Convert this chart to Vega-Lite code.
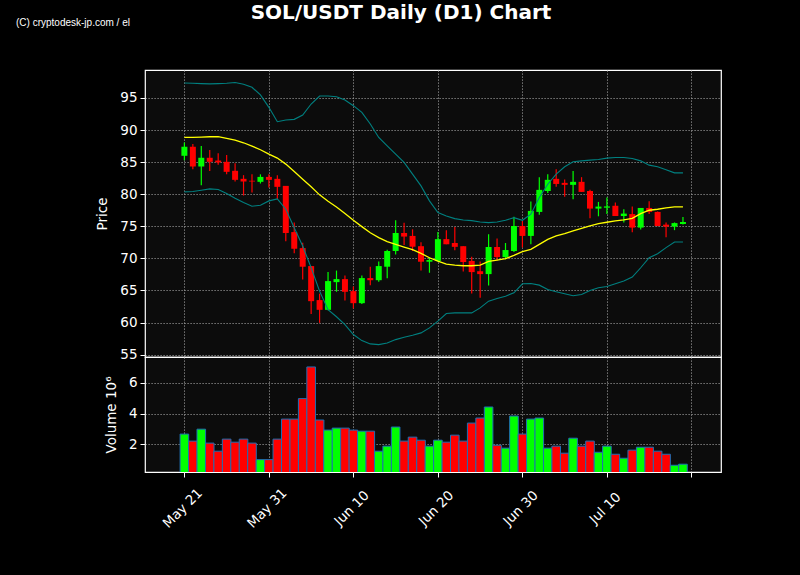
{
  "$schema": "https://vega.github.io/schema/vega-lite/v6.json",
  "background": "#000000",
  "padding": {"left": 15, "top": 3, "right": 85, "bottom": 60},
  "bounds": "flush",
  "title": {
    "text": "SOL/USDT Daily (D1) Chart",
    "color": "white",
    "font": "DejaVu Sans",
    "fontSize": 20,
    "fontWeight": "bold",
    "anchor": "middle",
    "frame": "group",
    "dx": -32,
    "offset": -6
  },
  "data": {
    "values": [
      {"date": "2024-05-21", "open": 85.99, "high": 88.07, "low": 85.31, "close": 87.4, "volume": 2.66, "ma": 88.85, "upper": 97.34, "lower": 80.36},
      {"date": "2024-05-22", "open": 87.4, "high": 87.81, "low": 83.9, "close": 84.32, "volume": 2.2, "ma": 88.85, "upper": 97.29, "lower": 80.42},
      {"date": "2024-05-23", "open": 84.32, "high": 87.5, "low": 81.4, "close": 85.68, "volume": 2.98, "ma": 88.9, "upper": 97.24, "lower": 80.63},
      {"date": "2024-05-24", "open": 85.68, "high": 86.88, "low": 83.6, "close": 85.05, "volume": 2.07, "ma": 88.96, "upper": 97.19, "lower": 80.83},
      {"date": "2024-05-25", "open": 85.25, "high": 86.4, "low": 84.6, "close": 84.95, "volume": 1.54, "ma": 88.96, "upper": 97.24, "lower": 80.73},
      {"date": "2024-05-26", "open": 85.05, "high": 86.1, "low": 83.1, "close": 83.49, "volume": 2.33, "ma": 88.7, "upper": 97.29, "lower": 80.1},
      {"date": "2024-05-27", "open": 83.65, "high": 84.84, "low": 81.98, "close": 82.24, "volume": 2.13, "ma": 88.44, "upper": 97.4, "lower": 79.38},
      {"date": "2024-05-28", "open": 82.4, "high": 82.97, "low": 79.8, "close": 81.98, "volume": 2.33, "ma": 88.02, "upper": 97.14, "lower": 78.7},
      {"date": "2024-05-29", "open": 82.1, "high": 83.1, "low": 80.26, "close": 81.98, "volume": 2.07, "ma": 87.5, "upper": 96.67, "lower": 78.13},
      {"date": "2024-05-30", "open": 81.93, "high": 83.1, "low": 81.67, "close": 82.7, "volume": 0.99, "ma": 86.93, "upper": 95.47, "lower": 78.28},
      {"date": "2024-05-31", "open": 82.7, "high": 83.1, "low": 81.04, "close": 82.24, "volume": 0.99, "ma": 86.25, "upper": 93.54, "lower": 78.96},
      {"date": "2024-06-01", "open": 82.4, "high": 82.97, "low": 79.2, "close": 81.15, "volume": 2.33, "ma": 85.63, "upper": 91.3, "lower": 79.27},
      {"date": "2024-06-02", "open": 81.3, "high": 81.3, "low": 72.66, "close": 73.96, "volume": 3.64, "ma": 84.69, "upper": 91.56, "lower": 77.66},
      {"date": "2024-06-03", "open": 74.1, "high": 75.6, "low": 70.8, "close": 71.5, "volume": 3.64, "ma": 83.54, "upper": 91.67, "lower": 74.79},
      {"date": "2024-06-04", "open": 71.6, "high": 72.45, "low": 66.7, "close": 68.7, "volume": 4.98, "ma": 82.34, "upper": 92.34, "lower": 71.93},
      {"date": "2024-06-05", "open": 68.8, "high": 68.8, "low": 61.35, "close": 63.33, "volume": 7.05, "ma": 81.15, "upper": 94.06, "lower": 68.54},
      {"date": "2024-06-06", "open": 63.5, "high": 64.5, "low": 59.95, "close": 61.98, "volume": 3.58, "ma": 79.9, "upper": 95.31, "lower": 64.9},
      {"date": "2024-06-07", "open": 61.98, "high": 67.86, "low": 61.9, "close": 66.46, "volume": 2.92, "ma": 78.9, "upper": 95.31, "lower": 62.0},
      {"date": "2024-06-08", "open": 66.3, "high": 68.1, "low": 64.8, "close": 66.77, "volume": 3.05, "ma": 78.0, "upper": 95.2, "lower": 60.9},
      {"date": "2024-06-09", "open": 66.77, "high": 67.34, "low": 63.44, "close": 64.79, "volume": 3.05, "ma": 76.98, "upper": 94.69, "lower": 59.69},
      {"date": "2024-06-10", "open": 64.9, "high": 65.6, "low": 62.2, "close": 63.02, "volume": 2.92, "ma": 75.94, "upper": 93.8, "lower": 58.13},
      {"date": "2024-06-11", "open": 63.02, "high": 67.34, "low": 62.9, "close": 66.93, "volume": 2.85, "ma": 74.95, "upper": 92.76, "lower": 57.19},
      {"date": "2024-06-12", "open": 66.93, "high": 68.7, "low": 65.8, "close": 66.6, "volume": 2.85, "ma": 74.0, "upper": 90.94, "lower": 56.67},
      {"date": "2024-06-13", "open": 66.6, "high": 69.53, "low": 66.35, "close": 68.8, "volume": 1.54, "ma": 73.23, "upper": 88.85, "lower": 56.56},
      {"date": "2024-06-14", "open": 68.7, "high": 71.35, "low": 66.9, "close": 71.15, "volume": 1.87, "ma": 72.6, "upper": 87.55, "lower": 56.82},
      {"date": "2024-06-15", "open": 71.15, "high": 75.94, "low": 70.6, "close": 73.96, "volume": 3.12, "ma": 72.19, "upper": 86.25, "lower": 57.34},
      {"date": "2024-06-16", "open": 73.96, "high": 75.57, "low": 72.1, "close": 73.4, "volume": 2.2, "ma": 71.77, "upper": 84.95, "lower": 57.71},
      {"date": "2024-06-17", "open": 73.5, "high": 74.53, "low": 71.15, "close": 71.82, "volume": 2.46, "ma": 71.35, "upper": 83.13, "lower": 58.02},
      {"date": "2024-06-18", "open": 71.9, "high": 72.5, "low": 68.1, "close": 69.48, "volume": 2.26, "ma": 70.78, "upper": 81.3, "lower": 58.39},
      {"date": "2024-06-19", "open": 69.48, "high": 70.1, "low": 67.76, "close": 69.74, "volume": 1.87, "ma": 70.1, "upper": 78.96, "lower": 59.17},
      {"date": "2024-06-20", "open": 69.6, "high": 74.1, "low": 69.5, "close": 73.0, "volume": 2.26, "ma": 69.58, "upper": 77.14, "lower": 60.21},
      {"date": "2024-06-21", "open": 73.0, "high": 74.4, "low": 72.2, "close": 72.2, "volume": 2.13, "ma": 69.1, "upper": 76.61, "lower": 61.41},
      {"date": "2024-06-22", "open": 72.4, "high": 74.9, "low": 71.25, "close": 71.8, "volume": 2.59, "ma": 68.96, "upper": 76.2, "lower": 61.51},
      {"date": "2024-06-23", "open": 71.9, "high": 71.9, "low": 67.97, "close": 69.43, "volume": 2.2, "ma": 68.85, "upper": 75.99, "lower": 61.51},
      {"date": "2024-06-24", "open": 69.6, "high": 70.26, "low": 64.53, "close": 67.86, "volume": 3.38, "ma": 68.85, "upper": 75.89, "lower": 61.51},
      {"date": "2024-06-25", "open": 68.0, "high": 69.5, "low": 63.85, "close": 67.55, "volume": 3.71, "ma": 68.96, "upper": 75.68, "lower": 62.29},
      {"date": "2024-06-26", "open": 67.55, "high": 73.75, "low": 65.78, "close": 71.77, "volume": 4.43, "ma": 69.53, "upper": 75.57, "lower": 63.33},
      {"date": "2024-06-27", "open": 71.77, "high": 73.1, "low": 69.7, "close": 70.2, "volume": 1.93, "ma": 69.74, "upper": 75.68, "lower": 63.75},
      {"date": "2024-06-28", "open": 70.2, "high": 72.4, "low": 69.84, "close": 71.3, "volume": 1.74, "ma": 69.95, "upper": 75.94, "lower": 64.11},
      {"date": "2024-06-29", "open": 71.15, "high": 76.5, "low": 71.0, "close": 75.05, "volume": 3.84, "ma": 70.47, "upper": 76.35, "lower": 64.64},
      {"date": "2024-06-30", "open": 75.05, "high": 75.8, "low": 71.7, "close": 73.5, "volume": 2.66, "ma": 71.04, "upper": 75.94, "lower": 66.04},
      {"date": "2024-07-01", "open": 73.5, "high": 78.85, "low": 72.2, "close": 77.4, "volume": 3.64, "ma": 71.4, "upper": 76.88, "lower": 66.09},
      {"date": "2024-07-02", "open": 77.24, "high": 82.66, "low": 76.8, "close": 80.68, "volume": 3.71, "ma": 72.19, "upper": 79.48, "lower": 65.83},
      {"date": "2024-07-03", "open": 80.5, "high": 83.1, "low": 80.2, "close": 82.24, "volume": 1.74, "ma": 72.97, "upper": 81.56, "lower": 65.16},
      {"date": "2024-07-04", "open": 82.4, "high": 83.9, "low": 81.15, "close": 81.6, "volume": 1.87, "ma": 73.49, "upper": 83.13, "lower": 64.79},
      {"date": "2024-07-05", "open": 81.77, "high": 82.3, "low": 79.6, "close": 81.46, "volume": 1.41, "ma": 73.85, "upper": 84.27, "lower": 64.48},
      {"date": "2024-07-06", "open": 81.46, "high": 83.6, "low": 79.2, "close": 81.93, "volume": 2.39, "ma": 74.27, "upper": 85.05, "lower": 64.17},
      {"date": "2024-07-07", "open": 81.93, "high": 82.66, "low": 80.36, "close": 80.36, "volume": 1.87, "ma": 74.69, "upper": 85.2, "lower": 64.38},
      {"date": "2024-07-08", "open": 80.5, "high": 80.7, "low": 76.25, "close": 77.76, "volume": 2.2, "ma": 75.05, "upper": 85.31, "lower": 65.0},
      {"date": "2024-07-09", "open": 77.76, "high": 78.8, "low": 76.56, "close": 78.07, "volume": 1.47, "ma": 75.42, "upper": 85.42, "lower": 65.42},
      {"date": "2024-07-10", "open": 77.9, "high": 79.5, "low": 76.9, "close": 78.1, "volume": 1.87, "ma": 75.63, "upper": 85.63, "lower": 65.63},
      {"date": "2024-07-11", "open": 78.2, "high": 78.7, "low": 76.6, "close": 76.6, "volume": 1.34, "ma": 75.83, "upper": 85.73, "lower": 66.04},
      {"date": "2024-07-12", "open": 76.6, "high": 77.66, "low": 75.6, "close": 76.98, "volume": 1.08, "ma": 75.99, "upper": 85.73, "lower": 66.46},
      {"date": "2024-07-13", "open": 76.9, "high": 78.07, "low": 74.06, "close": 74.8, "volume": 1.61, "ma": 76.25, "upper": 85.57, "lower": 67.08},
      {"date": "2024-07-14", "open": 74.8, "high": 77.86, "low": 74.5, "close": 77.86, "volume": 1.8, "ma": 76.98, "upper": 85.2, "lower": 68.54},
      {"date": "2024-07-15", "open": 77.86, "high": 78.9, "low": 76.9, "close": 77.24, "volume": 1.8, "ma": 77.5, "upper": 84.53, "lower": 70.1},
      {"date": "2024-07-16", "open": 77.24, "high": 77.3, "low": 75.0, "close": 75.05, "volume": 1.54, "ma": 77.66, "upper": 84.27, "lower": 70.73},
      {"date": "2024-07-17", "open": 75.26, "high": 75.6, "low": 73.3, "close": 74.95, "volume": 1.34, "ma": 77.86, "upper": 83.8, "lower": 71.67},
      {"date": "2024-07-18", "open": 74.95, "high": 75.6, "low": 74.4, "close": 75.5, "volume": 0.62, "ma": 78.02, "upper": 83.33, "lower": 72.55},
      {"date": "2024-07-19", "open": 75.36, "high": 76.46, "low": 75.3, "close": 75.67, "volume": 0.69, "ma": 78.02, "upper": 83.33, "lower": 72.55}
    ]
  },
  "spacing": 0,
  "resolve": {"scale": {"y": "independent"}},
  "vconcat": [
    {
      "width": 576,
      "height": 287,
      "title": {
        "text": "(C) cryptodesk-jp.com / el",
        "anchor": "start",
        "frame": "group",
        "dx": -129,
        "offset": 42,
        "font": "Liberation Sans",
        "fontSize": 10,
        "fontWeight": "normal",
        "color": "white"
      },
      "encoding": {
        "x": {
          "field": "date",
          "type": "temporal",
          "scale": {
            "type": "utc",
            "domain": [
              {"year": 2024, "month": 5, "date": 16, "hours": 22, "minutes": 20, "utc": true},
              {"year": 2024, "month": 7, "date": 22, "hours": 21, "minutes": 50, "utc": true}
            ]
          },
          "axis": {
            "values": [
              {"year": 2024, "month": 5, "date": 21, "utc": true},
              {"year": 2024, "month": 5, "date": 31, "utc": true},
              {"year": 2024, "month": 6, "date": 10, "utc": true},
              {"year": 2024, "month": 6, "date": 20, "utc": true},
              {"year": 2024, "month": 6, "date": 30, "utc": true},
              {"year": 2024, "month": 7, "date": 10, "utc": true},
              {"year": 2024, "month": 7, "date": 20, "utc": true}
            ],
            "labels": false,
            "ticks": false,
            "title": null
          }
        },
        "color": {
          "condition": {"test": "datum.close >= datum.open", "value": "#00ff00"},
          "value": "#ff0000"
        }
      },
      "layer": [
        {
          "mark": {"type": "rule", "strokeWidth": 1.2},
          "encoding": {
            "y": {
              "field": "low",
              "type": "quantitative",
              "title": "Price",
              "scale": {"domain": [54.63, 99.36], "nice": false, "zero": false},
              "axis": {"values": [55, 60, 65, 70, 75, 80, 85, 90, 95]}
            },
            "y2": {"field": "high"}
          }
        },
        {
          "mark": {"type": "bar", "size": 6},
          "encoding": {
            "y": {"field": "open", "type": "quantitative", "title": "Price", "axis": {"values": [55, 60, 65, 70, 75, 80, 85, 90, 95]}},
            "y2": {"field": "close"}
          }
        },
        {
          "mark": {"type": "line", "color": "#008080", "strokeWidth": 1.1},
          "encoding": {
            "y": {"field": "upper", "type": "quantitative", "title": "Price", "axis": {"values": [55, 60, 65, 70, 75, 80, 85, 90, 95]}},
            "color": {"value": "#008080"}
          }
        },
        {
          "mark": {"type": "line", "color": "#008080", "strokeWidth": 1.1},
          "encoding": {
            "y": {"field": "lower", "type": "quantitative", "title": "Price", "axis": {"values": [55, 60, 65, 70, 75, 80, 85, 90, 95]}},
            "color": {"value": "#008080"}
          }
        },
        {
          "mark": {"type": "line", "color": "#ffff00", "strokeWidth": 1.3},
          "encoding": {
            "y": {"field": "ma", "type": "quantitative", "title": "Price", "axis": {"values": [55, 60, 65, 70, 75, 80, 85, 90, 95]}},
            "color": {"value": "#ffff00"}
          }
        }
      ]
    },
    {
      "width": 576,
      "height": 115,
      "mark": {"type": "bar", "size": 8.6, "stroke": "#1f6fb4", "strokeWidth": 1, "clip": true},
      "encoding": {
        "x": {
          "field": "date",
          "type": "temporal",
          "scale": {
            "type": "utc",
            "domain": [
              {"year": 2024, "month": 5, "date": 16, "hours": 22, "minutes": 20, "utc": true},
              {"year": 2024, "month": 7, "date": 22, "hours": 21, "minutes": 50, "utc": true}
            ]
          },
          "axis": {
            "values": [
              {"year": 2024, "month": 5, "date": 21, "utc": true},
              {"year": 2024, "month": 5, "date": 31, "utc": true},
              {"year": 2024, "month": 6, "date": 10, "utc": true},
              {"year": 2024, "month": 6, "date": 20, "utc": true},
              {"year": 2024, "month": 6, "date": 30, "utc": true},
              {"year": 2024, "month": 7, "date": 10, "utc": true},
              {"year": 2024, "month": 7, "date": 20, "utc": true}
            ],
            "format": "%b %d",
            "labelExpr": "utcmonth(datum.value) == 6 && utcdate(datum.value) == 20 ? '' : datum.label",
            "labelAngle": -45,
            "labelAlign": "center",
            "labelBaseline": "middle",
            "labelPadding": 31,
            "labelOffset": -2,
            "title": null
          }
        },
        "y": {
          "field": "volume",
          "type": "quantitative",
          "title": "Volume  10⁶",
          "scale": {"domain": [0.18, 7.7], "nice": false, "zero": false},
          "axis": {"values": [2, 4, 6]}
        },
        "color": {
          "condition": {"test": "datum.close >= datum.open", "value": "#00ff00"},
          "value": "#ff0000"
        }
      }
    }
  ],
  "config": {
    "view": {"fill": "#0c0c0c", "stroke": "#ffffff", "strokeWidth": 1.2},
    "axis": {
      "labelColor": "white",
      "titleColor": "white",
      "labelFont": "DejaVu Sans",
      "titleFont": "DejaVu Sans",
      "labelFontSize": 13.5,
      "titleFontSize": 13.5,
      "titleFontWeight": "normal",
      "tickColor": "white",
      "tickSize": 5,
      "tickWidth": 1,
      "domain": false,
      "grid": true,
      "gridColor": "#a8a8a8",
      "gridDash": [1.2, 1.8],
      "gridWidth": 0.9,
      "labelOverlap": false
    },
    "axisY": {"labelPadding": 3, "titlePadding": 10}
  }
}
